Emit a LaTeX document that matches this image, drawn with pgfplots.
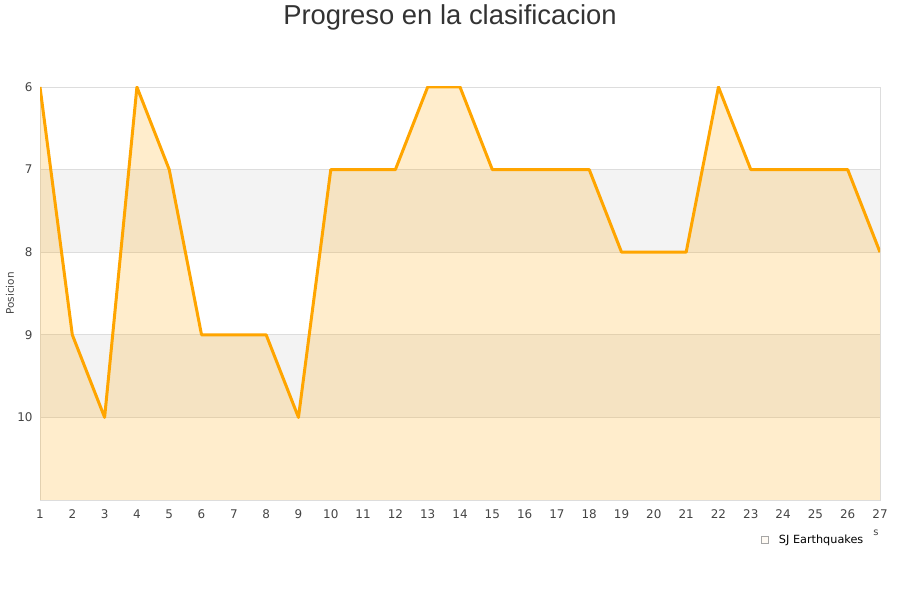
\documentclass[border=0pt]{standalone}
\usepackage{fontspec}
\setmainfont{DejaVu Sans}
\newfontfamily\titlefont{Liberation Sans}
\usepackage{pgfplots}
\pgfplotsset{compat=1.18}
\definecolor{lineor}{HTML}{FFA500}
\definecolor{band}{HTML}{F3F3F3}
\definecolor{gridc}{HTML}{DDDDDD}
\definecolor{ticktext}{HTML}{444444}
\definecolor{titlec}{HTML}{333333}

\begin{document}
\begin{tikzpicture}
\path (0bp,0bp) rectangle (900bp,600bp);
\begin{axis}[
    set layers,
    at={(40bp,100bp)}, anchor=south west,
    scale only axis,
    width=840bp, height=413bp,
    xmin=1, xmax=27, ymin=6, ymax=11,
    y dir=reverse,
    xtick={1,...,27}, ytick={6,...,10},
    ymajorgrids,
    grid style={draw=gridc, line width=0.8bp},
    axis line style={draw=gridc, line width=0.8bp},
    major tick length=0pt,
    /pgf/number format/assume math mode=true,
    tick label style={font=\fontsize{12}{14}\selectfont, text=ticktext},
    xticklabel style={yshift=-6bp},
    yticklabel style={xshift=-4bp},
    ylabel={Posicion},
    ylabel style={at={(axis description cs:-0.0357,0.5)}, anchor=center,
                  font=\fontsize{10.5}{12}\selectfont, text=ticktext},
    legend style={at={(axis description cs:0.855,-0.097)}, anchor=west,
                  draw=none, fill=none, font=\fontsize{11.3}{13}\selectfont,
                  /tikz/every odd column/.append style={column sep=8bp}},
    legend image code/.code={\draw[fill=lineor!20, draw=gray!70, line width=0.6bp] (0bp,-3.5bp) rectangle (7bp,3.5bp);},
]
\addplot[draw=none, fill=band, on layer=axis background, forget plot]
    coordinates {(1,7) (27,7) (27,8) (1,8)};
\addplot[draw=none, fill=band, on layer=axis background, forget plot]
    coordinates {(1,9) (27,9) (27,10) (1,10)};
\addplot[draw=none, fill=lineor, fill opacity=0.2] coordinates {
    (1,11) (1,6) (2,9) (3,10) (4,6) (5,7) (6,9) (7,9) (8,9) (9,10)
    (10,7) (11,7) (12,7) (13,6) (14,6) (15,7) (16,7) (17,7) (18,7)
    (19,8) (20,8) (21,8) (22,6) (23,7) (24,7) (25,7) (26,7) (27,8) (27,11)
};
\addlegendentry{SJ Earthquakes}
\addplot[lineor, line width=3bp, line join=round, forget plot] coordinates {
    (1,6) (2,9) (3,10) (4,6) (5,7) (6,9) (7,9) (8,9) (9,10)
    (10,7) (11,7) (12,7) (13,6) (14,6) (15,7) (16,7) (17,7) (18,7)
    (19,8) (20,8) (21,8) (22,6) (23,7) (24,7) (25,7) (26,7) (27,8)
};
\end{axis}
\node[font=\titlefont\fontsize{27.5}{32}\selectfont, text=titlec] at (450bp,583bp) {Progreso en la clasificacion};
\node[font=\fontsize{10}{12}\selectfont, text=ticktext] at (876bp,67bp) {s};
\end{tikzpicture}
\end{document}
